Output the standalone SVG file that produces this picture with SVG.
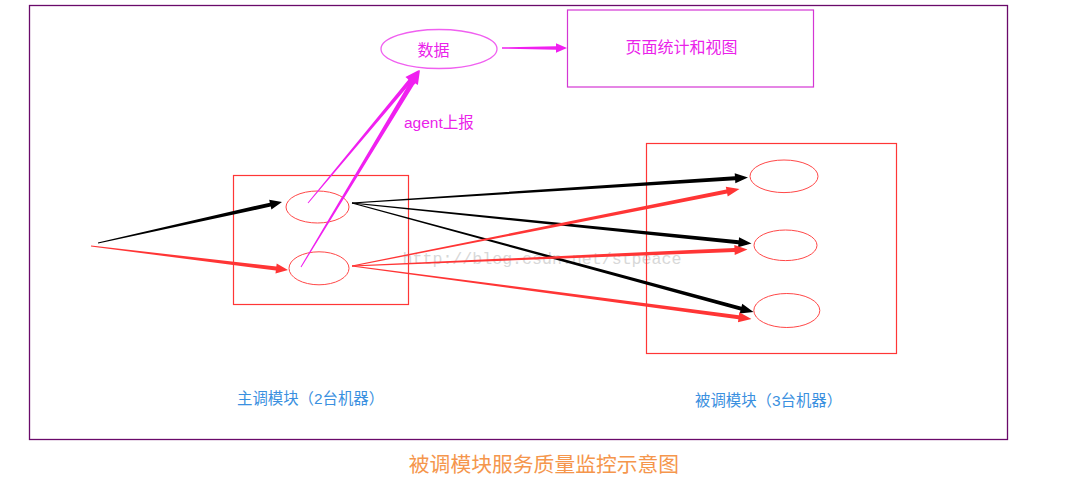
<svg xmlns="http://www.w3.org/2000/svg" width="1066" height="482" viewBox="0 0 1066 482">
<style>
.cjk{font-family:"Liberation Sans","Noto Sans CJK SC",sans-serif}
.frame{fill:none;stroke:#6a0a6a;stroke-width:1.3}
.rbox{fill:none;stroke:#ff3636;stroke-width:1.2}
.rell{fill:none;stroke:#ff4848;stroke-width:1}
.mag{fill:#f020f0}
.red{fill:#ff3535}
.blk{fill:#000}
</style>
<rect width="1066" height="482" fill="#fff"/>
<rect class="frame" x="29.5" y="5.5" width="978" height="434"/>
<text x="542" y="264" font-family="Liberation Mono,monospace" font-size="16.6" fill="#d8d8d8" text-anchor="middle">http://blog.csdn.net/stpeace</text>
<g id="page-view">
<rect x="567.5" y="10" width="246" height="77" fill="none" stroke="#d436d4" stroke-width="1.2"/>
<text class="cjk" x="681.5" y="53" font-size="16" fill="#ea22ea" text-anchor="middle">页面统计和视图</text>
</g>
<g id="data">
<ellipse cx="439" cy="49" rx="58" ry="19.5" fill="none" stroke="#f060f0" stroke-width="1.3"/>
<text class="cjk" x="433.5" y="56" font-size="16" fill="#ea22ea" text-anchor="middle">数据</text>
</g>
<g id="main-module">
<rect class="rbox" x="233.5" y="175.5" width="175" height="129"/>
<ellipse class="rell" cx="317.5" cy="207" rx="31.5" ry="16"/>
<ellipse class="rell" cx="319" cy="268.3" rx="30" ry="16.5"/>
</g>
<g id="callee-module">
<rect class="rbox" x="646.5" y="143.5" width="250" height="210"/>
<ellipse class="rell" cx="784" cy="176.3" rx="34" ry="16.3"/>
<ellipse class="rell" cx="785.5" cy="245.3" rx="31.5" ry="15.3"/>
<ellipse class="rell" cx="786.8" cy="310.5" rx="33" ry="17"/>
</g>
<g id="connectors">
<polygon class="blk" points="98.11,243.49 270.73,206.56 271.38,209.49 282,202 269.20,199.73 269.86,202.66 97.89,242.51"/>
<polygon class="red" points="90.94,246.50 275.85,270.54 275.49,273.51 288,270 276.69,263.59 276.33,266.56 91.06,245.50"/>
<polygon class="mag" points="308.38,203.32 411.57,82.03 414.64,84.60 419,70 405.42,76.90 408.49,79.47 307.62,202.68"/>
<polygon class="mag" points="301.43,267.26 414.90,83.27 417.90,85.08 420,70 407.62,78.88 410.62,80.69 300.57,266.74"/>
<polygon class="mag" points="502,47.3 556,46.3 556,43.2 567,48 556,52.8 556,49.7 502,48.7"/>
<polygon class="blk" points="352.03,203.50 735.16,180.34 735.35,183.33 748,177.5 734.71,173.35 734.90,176.34 351.97,202.50"/>
<polygon class="blk" points="351.95,203.50 738.37,244.18 738.07,247.16 751.5,243.5 739.07,237.22 738.77,240.20 352.05,202.50"/>
<polygon class="blk" points="351.87,203.48 740.43,310.52 739.64,313.42 753.5,312 742.26,303.76 741.47,306.66 352.13,202.52"/>
<polygon class="red" points="352.10,266.49 727.14,193.49 727.72,196.43 739.5,189 725.78,186.63 726.36,189.57 351.90,265.51"/>
<polygon class="red" points="352.02,266.50 734.59,252.04 734.72,255.04 747.5,249.5 734.30,245.04 734.43,248.04 351.98,265.50"/>
<polygon class="red" points="351.93,266.50 738.35,319.27 737.95,322.25 751.5,319 739.27,312.33 738.87,315.31 352.07,265.50"/>
</g>
<text class="cjk" x="404" y="128" font-size="15.5" fill="#ea22ea">agent上报</text>
<text class="cjk" x="237" y="404" font-size="15.4" fill="#3a90e0">主调模块（2台机器）</text>
<text class="cjk" x="695" y="406" font-size="15.4" fill="#3a90e0">被调模块（3台机器）</text>
<text class="cjk" x="544" y="472" font-size="20.8" fill="#f5964c" text-anchor="middle">被调模块服务质量监控示意图</text>
</svg>
